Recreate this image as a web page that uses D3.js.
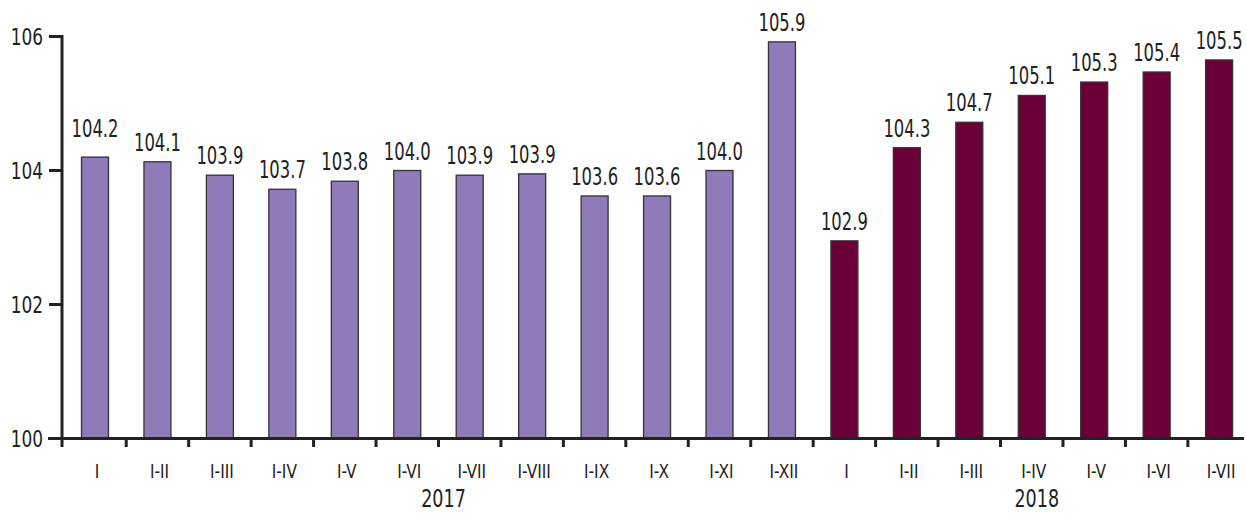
<!DOCTYPE html>
<html>
<head>
<meta charset="utf-8">
<script src="https://cdnjs.cloudflare.com/ajax/libs/d3/7.8.5/d3.min.js"></script>
<style>
body{margin:0;background:#fff;}
svg text{font-family:"DejaVu Sans Condensed","Liberation Sans Narrow",sans-serif;fill:#222;}
</style>
</head>
<body>
<div id="chart"></div>
<script>
// data
var categories = ["I","I-II","I-III","I-IV","I-V","I-VI","I-VII","I-VIII","I-IX","I-X","I-XI","I-XII",
                  "I","I-II","I-III","I-IV","I-V","I-VI","I-VII"];
var years = ["2017","2017","2017","2017","2017","2017","2017","2017","2017","2017","2017","2017",
             "2018","2018","2018","2018","2018","2018","2018"];
// bar heights as drawn
var values = [104.2,104.13,103.93,103.72,103.84,104.0,103.93,103.95,103.62,103.62,104.0,105.92,
              102.95,104.34,104.72,105.12,105.32,105.47,105.65];
// printed labels
var valueLabels = ["104.2","104.1","103.9","103.7","103.8","104.0","103.9","103.9","103.6","103.6","104.0","105.9",
                   "102.9","104.3","104.7","105.1","105.3","105.4","105.5"];
var yTicks = [100,102,104,106];
var yearNames = ["2017","2018"];

var width = 1246, height = 514;
var colors = {"2017":"#8e7bb7","2018":"#6b0039"};

var svg = d3.select('#chart').append('svg')
  .attr('width', width).attr('height', height);

var y = d3.scaleLinear().domain([100,106]).range([438.5,36.5]);

var step = 62.45;
var x = d3.scaleBand()
  .domain(d3.range(categories.length))
  .range([95 - step/2, 95 - step/2 + step*categories.length])
  .paddingInner(0.568)
  .paddingOuter(0.284);

function cx(i){ return x(i) + x.bandwidth()/2; }
// narrow text: font is condensed further by horizontal scale
function place(sel, fx, fy, sx){
  sel.attr('transform', function(d,i){
    return 'translate(' + fx(d,i) + ',' + fy(d,i) + ') scale(' + sx + ',1)';
  });
}

// bars
svg.selectAll('rect.bar')
  .data(values)
  .enter().append('rect')
  .attr('class','bar')
  .attr('x', function(d,i){ return x(i); })
  .attr('y', function(d){ return y(d); })
  .attr('width', x.bandwidth())
  .attr('height', function(d){ return y(100) - y(d); })
  .attr('fill', function(d,i){ return colors[years[i]]; })
  .attr('stroke', '#333')
  .attr('stroke-width', 1.3);

// value labels
var vl = svg.selectAll('text.val')
  .data(values)
  .enter().append('text')
  .attr('class','val')
  .attr('text-anchor','middle')
  .style('font-size','24px')
  .text(function(d,i){ return valueLabels[i]; });
place(vl, function(d,i){ return cx(i); }, function(d,i){ return y(d) - (i==0 ? 20 : 11); }, 0.76);

// y axis
var x0 = 62;
svg.append('line')
  .attr('x1',x0).attr('x2',x0)
  .attr('y1',y(106)-1.5).attr('y2',447)
  .attr('stroke','#222').attr('stroke-width',3);
svg.selectAll('line.ytick')
  .data(yTicks)
  .enter().append('line')
  .attr('x1',49).attr('x2',x0)
  .attr('y1',function(d){return y(d);}).attr('y2',function(d){return y(d);})
  .attr('stroke','#222').attr('stroke-width',3);
var yl = svg.selectAll('text.ytick')
  .data(yTicks)
  .enter().append('text')
  .attr('dy','0.36em')
  .attr('text-anchor','end')
  .style('font-size','23px')
  .text(function(d){return d;});
place(yl, function(){ return 43; }, function(d){ return y(d); }, 0.82);

// x axis
svg.append('line')
  .attr('x1',48).attr('x2',1244)
  .attr('y1',y(100)).attr('y2',y(100))
  .attr('stroke','#222').attr('stroke-width',3);
svg.selectAll('line.xtick')
  .data(d3.range(categories.length-1))
  .enter().append('line')
  .attr('x1',function(i){ return cx(i) + step/2; })
  .attr('x2',function(i){ return cx(i) + step/2; })
  .attr('y1',y(100)).attr('y2',447)
  .attr('stroke','#222').attr('stroke-width',3);

var cl = svg.selectAll('text.cat')
  .data(categories)
  .enter().append('text')
  .attr('text-anchor','middle')
  .style('font-size','19px')
  .text(function(d){return d;});
place(cl, function(d,i){ return cx(i) + 2; }, function(){ return 478; }, 0.9);

// year labels
var yr = svg.selectAll('text.year')
  .data(yearNames)
  .enter().append('text')
  .attr('text-anchor','middle')
  .style('font-size','25px')
  .text(function(d){return d;});
place(yr, function(name){
    var idx = d3.range(categories.length).filter(function(i){ return years[i]==name; });
    return (x(idx[0]) + x(idx[idx.length-1]) + x.bandwidth())/2 + 5;
  }, function(){ return 507; }, 0.78);
</script>
</body>
</html>
